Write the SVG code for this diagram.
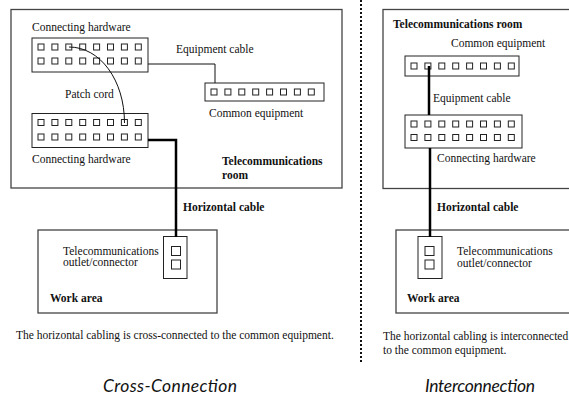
<svg xmlns="http://www.w3.org/2000/svg" width="569" height="398" viewBox="0 0 569 398">
<style>
.t{font-family:"Liberation Serif","Times New Roman",serif;font-size:11.5px;fill:#111}
.b{font-family:"Liberation Serif","Times New Roman",serif;font-size:11.5px;font-weight:bold;fill:#111}
.ttl{font-family:Lato,"Open Sans",sans-serif;font-style:italic;font-size:17.5px;fill:#111;text-anchor:middle}
.room{fill:#fff;stroke:#444;stroke-width:1.3}
.box{fill:#fff;stroke:#222;stroke-width:1}
.sq{fill:#fff;stroke:#222;stroke-width:1}
.thin{fill:none;stroke:#111;stroke-width:1}
.thick{fill:none;stroke:#000;stroke-width:2.5}
</style>
<defs>
<g id="row8">
<rect class="sq" x="0" y="0" width="6" height="6"/>
<rect class="sq" x="13.9" y="0" width="6" height="6"/>
<rect class="sq" x="27.8" y="0" width="6" height="6"/>
<rect class="sq" x="41.7" y="0" width="6" height="6"/>
<rect class="sq" x="55.6" y="0" width="6" height="6"/>
<rect class="sq" x="69.5" y="0" width="6" height="6"/>
<rect class="sq" x="83.4" y="0" width="6" height="6"/>
<rect class="sq" x="97.3" y="0" width="6" height="6"/>
</g>
</defs>
<rect width="569" height="398" fill="#fff"/>

<!-- separator -->
<line x1="361" y1="0" x2="361" y2="362" stroke="#111" stroke-width="2" stroke-dasharray="2,2"/>

<!-- LEFT: Cross-Connection -->
<g id="tr-left">
<rect class="room" x="11" y="9.5" width="331" height="178.5"/>
<text class="b" x="222" y="165">Telecommunications</text>
<text class="b" x="222" y="179">room</text>
</g>
<g id="ch-top-left">
<text class="t" x="32" y="30.5">Connecting hardware</text>
<rect class="box" x="32" y="38" width="116" height="34"/>
<use href="#row8" x="38" y="44"/>
<use href="#row8" x="38" y="58"/>
</g>
<g id="ch-bottom-left">
<rect class="box" x="32" y="113.5" width="116" height="34"/>
<use href="#row8" x="38" y="119.5"/>
<use href="#row8" x="38" y="134"/>
<text class="t" x="32" y="163">Connecting hardware</text>
</g>
<g id="ce-left">
<rect class="box" x="205" y="83" width="119" height="18"/>
<use href="#row8" x="211" y="89"/>
<text class="t" x="209" y="117">Common equipment</text>
</g>
<g id="wa-left">
<rect class="room" x="38" y="230" width="179" height="83"/>
<text class="t" x="63" y="255">Telecommunications</text>
<text class="t" x="63" y="266">outlet/connector</text>
<text class="b" x="50" y="302">Work area</text>
</g>
<g id="outlet-left">
<rect class="box" x="163.5" y="236.5" width="23.5" height="42"/>
<rect class="sq" x="171.5" y="246.5" width="9" height="9"/>
<rect class="sq" x="171.5" y="260" width="9" height="9"/>
</g>

<!-- RIGHT: Interconnection -->
<g id="tr-right">
<rect class="room" x="383" y="9.5" width="200" height="179"/>
<text class="b" x="393" y="28">Telecommunications room</text>
</g>
<g id="ce-right">
<text class="t" x="451" y="47">Common equipment</text>
<rect class="box" x="405" y="56" width="114" height="20"/>
<use href="#row8" x="411" y="63"/>
</g>
<g id="ch-right">
<rect class="box" x="405" y="115" width="117" height="33"/>
<use href="#row8" x="411" y="121"/>
<use href="#row8" x="411" y="134.5"/>
<text class="t" x="437" y="162">Connecting hardware</text>
</g>
<g id="wa-right">
<rect class="room" x="396" y="230" width="190" height="83"/>
<text class="t" x="457" y="255">Telecommunications</text>
<text class="t" x="457" y="267">outlet/connector</text>
<text class="b" x="407" y="302">Work area</text>
</g>
<g id="outlet-right">
<rect class="box" x="418" y="236.5" width="24" height="42"/>
<rect class="sq" x="425" y="246.5" width="9" height="9"/>
<rect class="sq" x="425" y="260" width="9" height="9"/>
</g>

<!-- connectors -->
<g id="connectors">
<path class="thin" d="M69 47 C100 47 124.5 80 124.5 123"/>
<text class="t" x="65" y="98">Patch cord</text>
<path class="thin" d="M148 64 H215 V83"/>
<text class="t" x="176" y="53">Equipment cable</text>
<path class="thick" d="M148 140 H176 V237"/>
<text class="b" x="183" y="211">Horizontal cable</text>
<path class="thick" d="M429 66 V115"/>
<text class="t" x="433" y="102">Equipment cable</text>
<path class="thick" d="M430 148 V237"/>
<text class="b" x="437" y="211">Horizontal cable</text>
</g>

<!-- captions -->
<text class="t" x="16" y="339">The horizontal cabling is cross-connected to the common equipment.</text>
<text class="t" x="383" y="340">The horizontal cabling is interconnected</text>
<text class="t" x="383" y="354">to the common equipment.</text>
<text class="ttl" x="170" y="392" textLength="134" lengthAdjust="spacing">Cross-Connection</text>
<text class="ttl" x="480" y="392" textLength="110" lengthAdjust="spacing">Interconnection</text>
</svg>
